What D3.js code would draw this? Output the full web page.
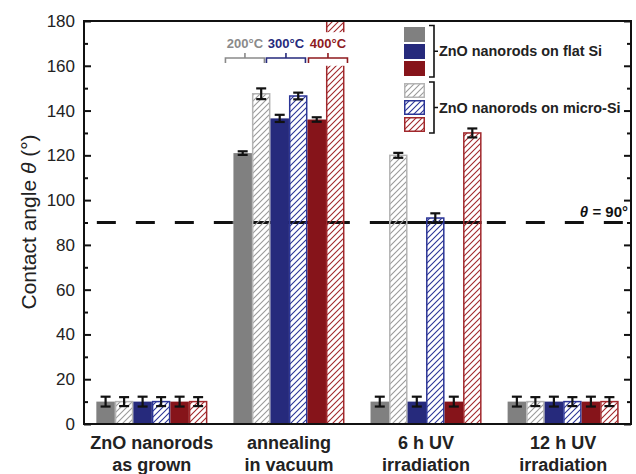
<!DOCTYPE html>
<html><head><meta charset="utf-8">
<script src="https://cdn.jsdelivr.net/npm/d3@7"></script>
<style>
html,body{margin:0;padding:0;background:#fff;}
svg{display:block;}
text{font-family:"Liberation Sans",Arial,sans-serif;}
</style></head>
<body>
<svg id="c" width="636" height="474"></svg>
<script>
// ---------- data ----------
const categories = ["as grown", "annealing", "6h UV", "12h UV"];
const catLine1 = ["ZnO nanorods", "annealing", "6 h UV", "12 h UV"];
const catLine2 = ["as grown", "in vacuum", "irradiation", "irradiation"];
const seriesNames = ["flat200", "micro200", "flat300", "micro300", "flat400", "micro400"];
const seriesColors = ["#808080", "#9a9a9a", "#262a7c", "#2b3596", "#86141a", "#a1282c"];
const seriesHatched = [false, true, false, true, false, true];
const flat200 = [10, 121, 10, 10];
const micro200 = [10, 147.5, 120, 10];
const flat300 = [10, 136.5, 10, 10];
const micro300 = [10, 146.5, 92, 10];
const flat400 = [10, 136, 10, 10];
const micro400 = [10, 180, 130, 10];
const err_flat200 = [2.2, 0.8, 2.2, 2.2];
const err_micro200 = [2.0, 2.4, 1.1, 2.0];
const err_flat300 = [2.2, 1.6, 2.2, 2.2];
const err_micro300 = [2.0, 1.5, 2.1, 2.0];
const err_flat400 = [2.2, 1.0, 2.2, 2.2];
const err_micro400 = [2.0, 0, 2.0, 2.0];
const yTicks = [0, 20, 40, 60, 80, 100, 120, 140, 160, 180];
const yMinorTicks = [10, 30, 50, 70, 90, 110, 130, 150, 170];
const tempLabels = ["200°C", "300°C", "400°C"];
const tempColors = ["#8a8a8a", "#262a7c", "#8e1a1e"];
const legendLabels = ["ZnO nanorods on flat Si", "ZnO nanorods on micro-Si"];
const refAngle = 90;
const refLabel = "= 90°";

const values = [flat200, micro200, flat300, micro300, flat400, micro400];
const errors = [err_flat200, err_micro200, err_flat300, err_micro300, err_flat400, err_micro400];

// ---------- layout ----------
const L = 84, R = 631, T = 21, B = 424;
const svg = d3.select("#c");
const defs = svg.append("defs");

seriesNames.forEach((n, i) => {
  if (!seriesHatched[i]) return;
  const p = defs.append("pattern").attr("id", "h_" + n)
    .attr("patternUnits", "userSpaceOnUse").attr("width", 6).attr("height", 6);
  p.append("path").attr("d", "M-1,7 L7,-1 M-4,4 L4,-4 M2,10 L10,2")
    .attr("stroke", seriesColors[i]).attr("stroke-width", 1.1).attr("fill", "none");
});
defs.append("clipPath").attr("id", "plotclip").append("rect")
  .attr("x", L).attr("y", T).attr("width", R - L).attr("height", B - T);

const x = d3.scaleBand().domain(categories).range([L, R]).paddingInner(0.19).paddingOuter(0.09);
const xs = d3.scaleBand().domain(seriesNames).range([0, x.bandwidth()]);
const y = d3.scaleLinear().domain([0, 180]).range([B, T]);

// reference line (behind bars)
const refG = svg.append("g");
refG.append("line").attr("x1", x(categories[0]) + 0.5).attr("x2", R)
  .attr("y1", y(refAngle)).attr("y2", y(refAngle))
  .attr("stroke", "#111").attr("stroke-width", 3).attr("stroke-dasharray", "19,20");
[categories[1], categories[2]].forEach(c => {
  refG.append("line").attr("x1", x(c)).attr("x2", x(c) + x.bandwidth())
    .attr("y1", y(refAngle)).attr("y2", y(refAngle))
    .attr("stroke", "#111").attr("stroke-width", 3);
});

// bars
const barsG = svg.append("g").attr("clip-path", "url(#plotclip)");
seriesNames.forEach((n, si) => {
  categories.forEach((c, ci) => {
    const v = values[si][ci];
    const bx = x(c) + xs(n);
    const hatched = seriesHatched[si];
    barsG.append("rect")
      .attr("x", hatched ? bx + 0.75 : bx).attr("y", y(Math.min(v, 185)))
      .attr("width", hatched ? xs.bandwidth() - 1.5 : xs.bandwidth())
      .attr("height", y(0) - y(Math.min(v, 185)))
      .attr("fill", hatched ? "url(#h_" + n + ")" : seriesColors[si])
      .attr("stroke", hatched ? (si === 1 ? "#b4b4b4" : seriesColors[si]) : "none")
      .attr("stroke-width", 1.5);
  });
});

// mask gap on the tall bar where the 400°C label sits
{
  const c = categories[1], n = seriesNames[5];
  svg.append("rect").attr("x", x(c) + xs(n) - 1).attr("y", y(175))
    .attr("width", xs.bandwidth() + 2).attr("height", y(160) - y(175)).attr("fill", "#fff");
}

// error bars
const errG = svg.append("g").attr("stroke", "#111").attr("stroke-width", 2.2);
seriesNames.forEach((n, si) => {
  categories.forEach((c, ci) => {
    const v = values[si][ci], e = errors[si][ci];
    if (!e) return;
    const cx = x(c) + xs(n) + xs.bandwidth() / 2;
    errG.append("line").attr("x1", cx).attr("x2", cx).attr("y1", y(v - e)).attr("y2", y(v + e));
    errG.append("line").attr("x1", cx - 5).attr("x2", cx + 5).attr("y1", y(v + e)).attr("y2", y(v + e));
    errG.append("line").attr("x1", cx - 5).attr("x2", cx + 5).attr("y1", y(v - e)).attr("y2", y(v - e));
  });
});

// frame
svg.append("rect").attr("x", L).attr("y", T).attr("width", R - L).attr("height", B - T)
  .attr("fill", "none").attr("stroke", "#111").attr("stroke-width", 2);

// axes
const yAxis = svg.append("g").attr("transform", `translate(${L},0)`)
  .call(d3.axisLeft(y).tickValues(yTicks).tickSize(-7).tickPadding(9).tickFormat(d3.format("d")));
const yMinor = svg.append("g").attr("transform", `translate(${L},0)`)
  .call(d3.axisLeft(y).tickValues(yMinorTicks).tickSize(-4).tickFormat(""));
const yR = svg.append("g").attr("transform", `translate(${R},0)`)
  .call(d3.axisRight(y).tickValues(yTicks).tickSize(-7).tickFormat(""));
const yRm = svg.append("g").attr("transform", `translate(${R},0)`)
  .call(d3.axisRight(y).tickValues(yMinorTicks).tickSize(-4).tickFormat(""));
[yAxis, yMinor, yR, yRm].forEach(g => {
  g.select(".domain").remove();
  g.selectAll(".tick line").attr("stroke", "#111").attr("stroke-width", 2);
});
yAxis.selectAll(".tick text").attr("font-size", 17).attr("fill", "#222")
  .style("font-family", "'Liberation Sans',Arial,sans-serif");

// y title
const yt = svg.append("text").attr("transform", "translate(36,222) rotate(-90)")
  .attr("text-anchor", "middle").attr("font-size", 21).attr("fill", "#222");
yt.append("tspan").text("Contact angle ");
yt.append("tspan").attr("font-style", "italic").text("θ");
yt.append("tspan").text(" (°)");

// x labels
const xl = svg.append("g");
categories.forEach((c, i) => {
  const cx = x(c) + x.bandwidth() / 2;
  [[catLine1[i], 449], [catLine2[i], 471]].forEach(([s, yy]) => {
    xl.append("text").attr("x", cx).attr("y", yy)
      .attr("text-anchor", "middle").attr("font-size", 18).attr("font-weight", "bold")
      .attr("fill", "#222").text(s);
  });
});

// temperature brackets
const offs = [-7, -3, 2];
[0, 1, 2].forEach(k => {
  const c = categories[1];
  const x0 = x(c) + xs(seriesNames[2 * k]);
  const x1 = x(c) + xs(seriesNames[2 * k + 1]) + xs.bandwidth();
  const mid = (x0 + x1) / 2 + offs[k];
  const hw = 19.5;
  const by = y(163.5);
  svg.append("path")
    .attr("d", `M${mid - hw},${by + 5} V${by} H${mid + hw} V${by + 5} M${mid},${by} V${by - 5}`)
    .attr("fill", "none").attr("stroke", tempColors[k]).attr("stroke-width", 1.6);
  svg.append("text").attr("x", mid).attr("y", by - 10).attr("text-anchor", "middle")
    .attr("font-size", 13).attr("font-weight", "bold").attr("fill", tempColors[k]).text(tempLabels[k]);
});

// reference label
const rl = svg.append("text").attr("x", 628).attr("y", y(refAngle) - 6).attr("text-anchor", "end")
  .attr("font-size", 15).attr("font-weight", "bold").attr("fill", "#111");
rl.append("tspan").attr("font-style", "italic").text("θ");
rl.append("tspan").text(" " + refLabel);

// legend
const lg = svg.append("g");
const boxX = 404, boxW = 21, boxH = 15;
const boxYs = [27, 44, 61, 83, 100, 117];
const legOrder = [0, 2, 4, 1, 3, 5];
legOrder.forEach((si, k) => {
  const h = seriesHatched[si];
  lg.append("rect").attr("x", h ? boxX + 0.75 : boxX).attr("y", boxYs[k] + (h ? 0.75 : 0))
    .attr("width", h ? boxW - 1.5 : boxW).attr("height", h ? boxH - 1.5 : boxH)
    .attr("fill", h ? "url(#h_" + seriesNames[si] + ")" : seriesColors[si])
    .attr("stroke", h ? (si === 1 ? "#b4b4b4" : seriesColors[si]) : "none").attr("stroke-width", 1.5);
});
[[25.5, 77], [82, 133]].forEach((r, k) => {
  const bx = 434, m = (r[0] + r[1]) / 2;
  lg.append("path").attr("d", `M${bx - 5},${r[0]} H${bx} V${r[1]} H${bx - 5} M${bx},${m} H${bx + 4}`)
    .attr("fill", "none").attr("stroke", "#111").attr("stroke-width", 1.6);
  lg.append("text").attr("x", bx + 5).attr("y", m + 5).attr("font-size", 14.4).attr("font-weight", "bold")
    .attr("fill", "#222").text(legendLabels[k]);
});
</script>
</body></html>
